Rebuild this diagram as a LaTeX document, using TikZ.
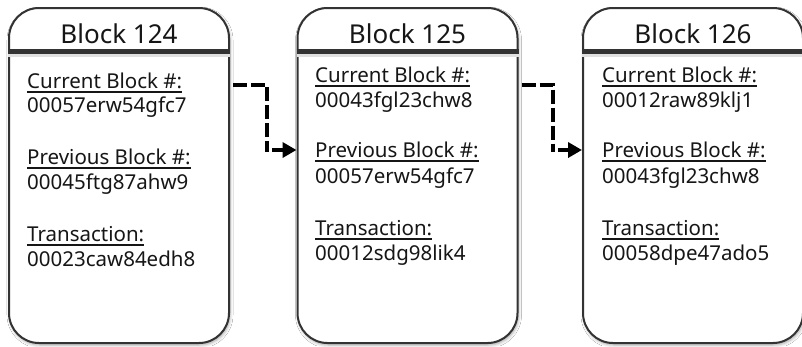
\documentclass[tikz,border=0pt]{standalone}
\usepackage{fontspec}
\setmainfont{Noto Sans}
\usetikzlibrary{arrows.meta,shadows.blur}
\definecolor{edge}{HTML}{333333}
\definecolor{ink}{HTML}{161616}
\newcommand\ulx[1]{\setbox0\hbox{#1}\rlap{\rule[-4.6pt]{\wd0}{1.8pt}}\box0}
\begin{document}
\begin{tikzpicture}[x=1pt,y=-1pt,
  blockbox/.style={draw=edge, line width=2pt, fill=white, rounded corners=30pt,
    minimum width=220pt, minimum height=335pt, inner sep=0pt,
    blur shadow={shadow xshift=1pt, shadow yshift=-2pt, shadow blur radius=3pt, shadow opacity=35}},
  divider/.style={draw=edge, line width=4.5pt},
  divshadow/.style={draw=black!12, line width=3pt},
  title/.style={font=\fontsize{26}{30}\selectfont, anchor=base, inner sep=0pt, text=ink},
  label/.style={font=\fontsize{20.5}{24}\selectfont, anchor=base west, inner sep=0pt, text=ink},
  dashconn/.style={line width=4.5pt, dash pattern=on 14pt off 4pt},
  arrowconn/.style={line width=4.5pt, -{Triangle[length=14pt,width=15pt]}}]
\useasboundingbox[fill=white] (0,0) rectangle (802,346);

% blocks
\node[blockbox] (b1) at (119,175.5) {};
\node[blockbox] (b2) at (407.5,175.5) {};
\node[blockbox] (b3) at (693,175.5) {};

% dividers
\foreach \b in {b1,b2,b3}{
  \draw[divshadow] ([yshift=-48pt]\b.north west) -- ([yshift=-48pt]\b.north east);
  \draw[divider] ([yshift=-44.5pt]\b.north west) -- ([yshift=-44.5pt]\b.north east);
}

% titles
\node[title] (t1) at (119,43) {Block 124};
\node[title] (t2) at (407.5,43) {Block 125};
\node[title] (t3) at (693,43) {Block 126};

% block 124 contents
\node[label] (l11) at (27,88)  {\ulx{Current Block \#:}};
\node[label] (l12) at (27,112) {00057erw54gfc7};
\node[label] (l13) at (27,164) {\ulx{Previous Block \#:}};
\node[label] (l14) at (27,189) {00045ftg87ahw9};
\node[label] (l15) at (27,241.5) {\ulx{Transaction:}};
\node[label] (l16) at (27,266.5) {00023caw84edh8};

% block 125 contents
\node[label] (l21) at (315,82)  {\ulx{Current Block \#:}};
\node[label] (l22) at (315,107) {00043fgl23chw8};
\node[label] (l23) at (315,157.5) {\ulx{Previous Block \#:}};
\node[label] (l24) at (315,183) {00057erw54gfc7};
\node[label] (l25) at (315,235) {\ulx{Transaction:}};
\node[label] (l26) at (315,260) {00012sdg98lik4};

% block 126 contents
\node[label] (l31) at (602,82)  {\ulx{Current Block \#:}};
\node[label] (l32) at (602,107) {00012raw89klj1};
\node[label] (l33) at (602,157.5) {\ulx{Previous Block \#:}};
\node[label] (l34) at (602,183) {00043fgl23chw8};
\node[label] (l35) at (602,235) {\ulx{Transaction:}};
\node[label] (l36) at (602,260) {00058dpe47ado5};

% connectors
\coordinate (h) at (0,85);
\coordinate (k1) at (267,152);
\coordinate (a1) at (272,150);
\coordinate (k2) at (553,152);
\coordinate (a2) at (558,150);
\draw[dashconn] ([xshift=3pt]b1.east |- h) -| (k1);
\draw[arrowconn] (a1) -- (b2.west |- a1);
\draw[dashconn] ([xshift=3pt]b2.east |- h) -| (k2);
\draw[arrowconn] (a2) -- (b3.west |- a2);
\end{tikzpicture}
\end{document}
